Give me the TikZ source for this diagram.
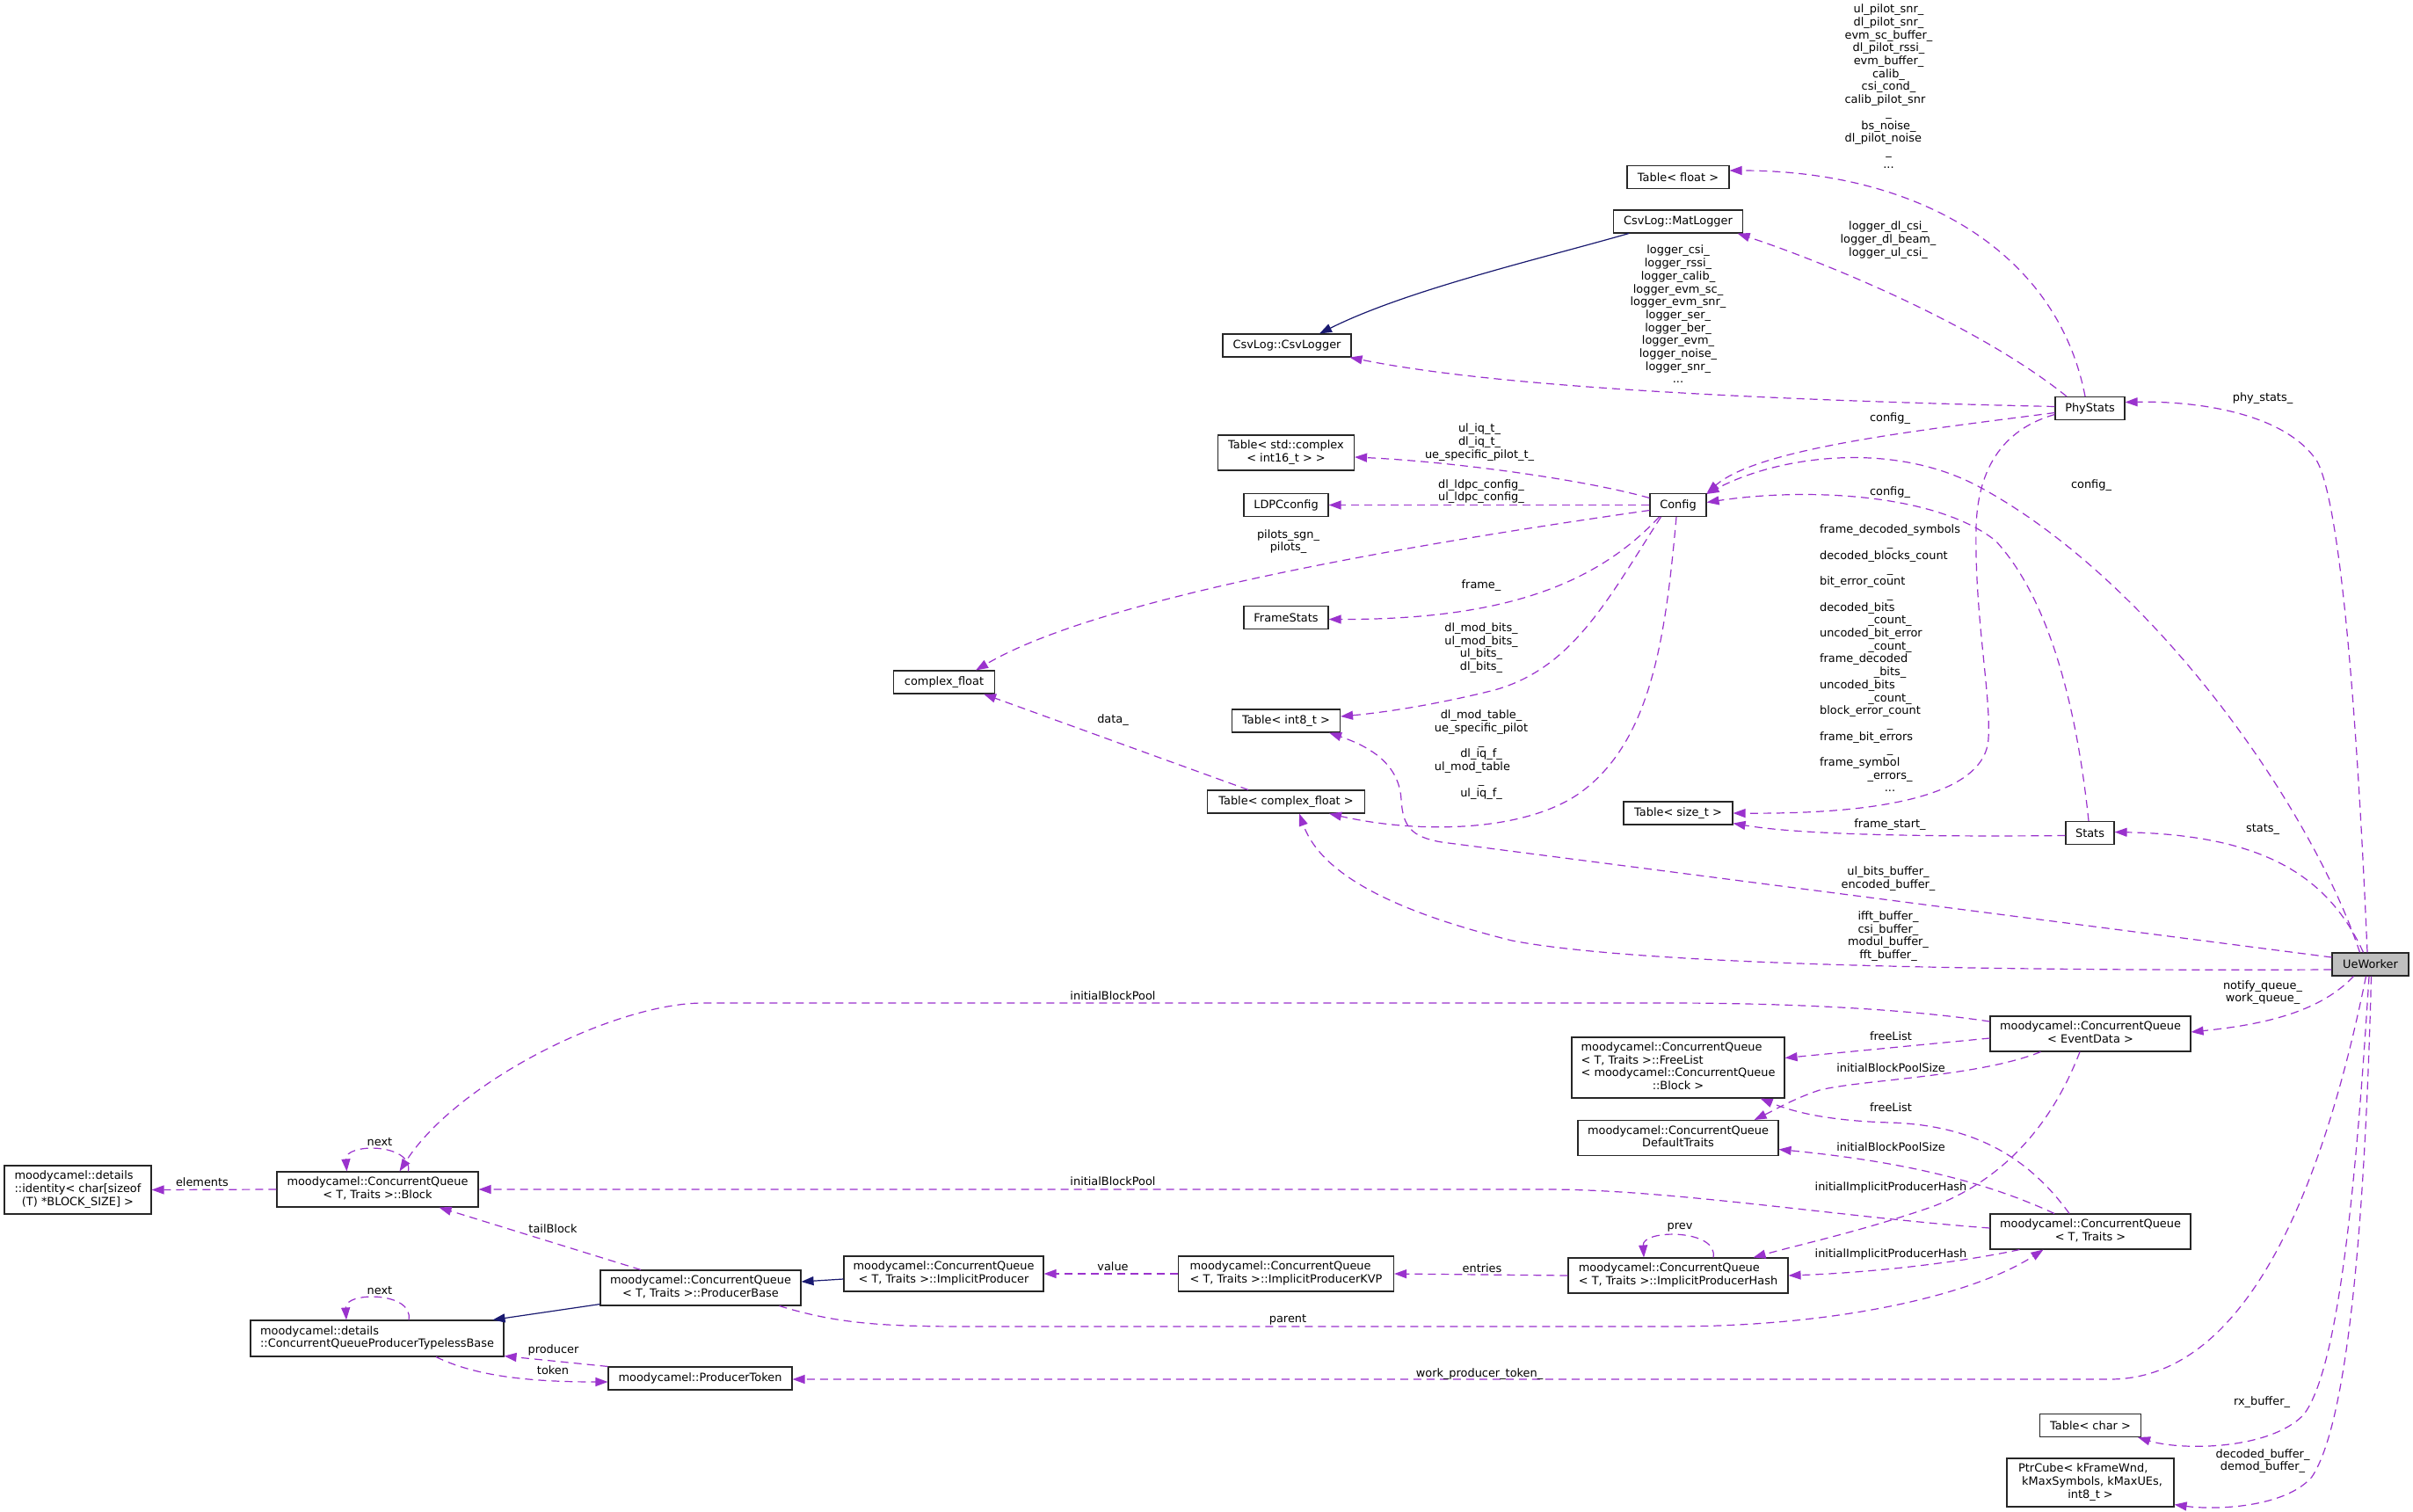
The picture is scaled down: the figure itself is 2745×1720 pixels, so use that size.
\documentclass[tikz,border=0pt]{standalone}
\usepackage{fontspec}
\setmainfont{DejaVu Sans}
\usetikzlibrary{arrows.meta,calc}
\definecolor{depc}{HTML}{9A32CD}
\definecolor{inhc}{HTML}{191970}
\definecolor{selc}{HTML}{BFBFBF}
\newcommand\nf{\fontsize{12.9}{14.7}\selectfont}
\newcommand\mycc[1]{\multicolumn{1}{@{}c@{}}{#1}}
\newcommand\myll[1]{\multicolumn{1}{@{}l@{}}{#1}}
\newcommand\mytl[1]{\begin{tabular}{@{}l@{}}#1\end{tabular}}
\newcommand\mytc[1]{\begin{tabular}{@{}c@{}}#1\end{tabular}}
\begin{document}
\begin{tikzpicture}[x=1pt,y=-1pt,
  box/.style={draw=black!85, line width=1.1pt, fill=white, inner xsep=0pt, inner ysep=0pt, minimum height=26pt, font=\nf},
  dep/.style={draw=depc, dash pattern=on 9pt off 6pt, line width=1.2pt, -{Triangle[length=14pt,width=10pt,fill=depc]}},
  inh/.style={draw=inhc, line width=1.2pt, -{Triangle[length=14pt,width=10pt,fill=inhc]}},
  lab/.style={inner sep=0pt, font=\nf, align=center}]
\path[use as bounding box, fill=white] (0,0) rectangle (2745,1720);

% ---------- nodes ----------
\node[box,minimum width=116pt] (tfloat) at (1909,201.5) {Table< float >};
\node[box,minimum width=147pt] (matlogger) at (1909,252) {CsvLog::MatLogger};
\node[box,minimum width=146pt] (csvlogger) at (1464,393) {CsvLog::CsvLogger};
\node[box,minimum width=79pt] (phystats) at (2377.5,464.5) {PhyStats};
\node[box,minimum width=155pt,minimum height=40pt] (tcomplex) at (1463,515) {\mytc{Table< std::complex\\< int16\_t > >}};
\node[box,minimum width=96pt] (ldpc) at (1463,574.5) {LDPCconfig};
\node[box,minimum width=64pt] (config) at (1909,574.5) {Config};
\node[box,minimum width=96pt] (framestats) at (1463,702.5) {FrameStats};
\node[box,minimum width=115pt] (cfloat) at (1074,776) {complex\_float};
\node[box,minimum width=123pt] (tint8) at (1463,820) {Table< int8\_t >};
\node[box,minimum width=179pt] (tcfloat) at (1463,912) {Table< complex\_float >};
\node[box,minimum width=124pt] (tsize) at (1909,925) {Table< size\_t >};
\node[box,minimum width=55pt] (stats) at (2377.5,947.5) {Stats};
\node[box,minimum width=87pt,fill=selc] (ueworker) at (2696.5,1097) {UeWorker};
\node[box,minimum width=228pt,minimum height=40pt] (cqevent) at (2378,1176) {\mytc{moodycamel::ConcurrentQueue\\< EventData >}};
\node[box,minimum width=242pt,minimum height=69pt] (freelist) at (1909,1214.5) {\mytl{moodycamel::ConcurrentQueue\\< T, Traits >::FreeList\\< moodycamel::ConcurrentQueue\\\mycc{::Block >}}};
\node[box,minimum width=228pt,minimum height=40pt] (traits) at (1909,1294.5) {\mytl{moodycamel::ConcurrentQueue\\\mycc{DefaultTraits}}};
\node[box,minimum width=229pt,minimum height=40pt] (block) at (429.5,1353) {\mytl{moodycamel::ConcurrentQueue\\\mycc{< T, Traits >::Block}}};
\node[box,minimum width=167pt,minimum height=55pt] (identity) at (88.5,1353.5) {\mytl{moodycamel::details\\::identity< char[sizeof\\\mycc{(T) *BLOCK\_SIZE] >}}};
\node[box,minimum width=228pt,minimum height=40pt] (cqt) at (2378,1401) {\mytl{moodycamel::ConcurrentQueue\\\mycc{< T, Traits >}}};
\node[box,minimum width=228pt,minimum height=40pt] (pbase) at (797,1465) {\mytl{moodycamel::ConcurrentQueue\\\mycc{< T, Traits >::ProducerBase}}};
\node[box,minimum width=227pt,minimum height=40pt] (iprod) at (1073.5,1449) {\mytl{moodycamel::ConcurrentQueue\\\mycc{< T, Traits >::ImplicitProducer}}};
\node[box,minimum width=245pt,minimum height=40pt] (kvp) at (1463,1449) {\mytl{moodycamel::ConcurrentQueue\\\mycc{< T, Traits >::ImplicitProducerKVP}}};
\node[box,minimum width=250pt,minimum height=40pt] (hash) at (1909,1451) {\mytl{moodycamel::ConcurrentQueue\\\mycc{< T, Traits >::ImplicitProducerHash}}};
\node[box,minimum width=288pt,minimum height=41pt] (typeless) at (429,1522.5) {\mytl{moodycamel::details\\\mycc{::ConcurrentQueueProducerTypelessBase}}};
\node[box,minimum width=209pt] (token) at (796.5,1568) {moodycamel::ProducerToken};
\node[box,minimum width=115pt] (tchar) at (2378,1621.5) {Table< char >};
\node[box,minimum width=190pt,minimum height=55pt] (ptrcube) at (2378,1686.5) {\mytl{PtrCube< kFrameWnd,\\\ kMaxSymbols, kMaxUEs,\\\mycc{int8\_t >}}};

% ---------- edges ----------
\draw[dep] ($(phystats.north)+(-5.5,0)$) .. controls (2340,285) and (2180,194) .. ($(tfloat.east)+(0,-7.5)$);
\draw[dep] ($(phystats.north)+(-26.5,0)$) .. controls (2250,370) and (2080,300) .. ($(matlogger.south east)+(-6.5,0)$);
\draw[dep] ($(phystats.west)+(0,-2)$) .. controls (2000,455) and (1700,440) .. ($(csvlogger.south east)+(-2,0)$);
\draw[dep] ($(phystats.west)+(0,5)$) .. controls (2180,490) and (2000,510) .. (config.north east);
\draw[dep] ($(phystats.west)+(0,7)$) .. controls (2290,485) and (2250,520) .. (2248,600) .. controls (2246,700) and (2265,790) .. (2262,840) .. controls (2258,915) and (2100,926) .. (tsize.east);
\draw[dep] ($(stats.west)+(0,3)$) .. controls (2200,952) and (2050,950) .. ($(tsize.south east)+(0,-2)$);
\draw[dep] ($(stats.north)+(-1.5,0)$) .. controls (2362,800) and (2330,680) .. (2270,615) .. controls (2200,560) and (2050,555) .. ($(config.east)+(0,-3)$);
\draw[dep] ($(ueworker.north)+(-12,0)$) .. controls (2630,920) and (2450,660) .. (2250,553) .. controls (2150,500) and (2020,520) .. ($(config.north east)+(0,1)$);
\draw[dep] ($(ueworker.north)+(-3.5,0)$) .. controls (2683,850) and (2665,580) .. (2636,525) .. controls (2600,470) and (2500,456) .. ($(phystats.east)+(0,-7)$);
\draw[dep] ($(ueworker.north)+(-8,0)$) .. controls (2650,1000) and (2580,950) .. ($(stats.east)+(0,-1)$);
\draw[dep] ($(ueworker.west)+(0,-8)$) -- (1640,958) .. controls (1605,952) and (1596,940) .. (1594,910) .. controls (1592,870) and (1560,850) .. ($(tint8.south east)+(-13,0)$);
\draw[dep] ($(ueworker.west)+(0,6)$) .. controls (2200,1105) and (1850,1095) .. (1720,1070) .. controls (1600,1040) and (1505,1000) .. ($(tcfloat.south)+(15,0)$);
\draw[dep] ($(config.south)+(-2,0)$) .. controls (1895,720) and (1880,840) .. (1800,900) .. controls (1740,945) and (1620,950) .. ($(tcfloat.south east)+(-41,0)$);
\draw[dep] ($(config.south west)+(13,0)$) .. controls (1830,680) and (1790,760) .. (1700,785) .. controls (1640,800) and (1580,810) .. ($(tint8.east)+(0,-5)$);
\draw[dep] ($(config.south west)+(11,0)$) .. controls (1820,660) and (1720,705) .. ($(framestats.east)+(0,2)$);
\draw[dep] ($(config.west)+(0,6)$) .. controls (1600,620) and (1250,680) .. ($(cfloat.north east)+(-22,0)$);
\draw[dep] (config.west) -- (ldpc.east);
\draw[dep] ($(config.west)+(0,-8)$) .. controls (1800,545) and (1650,525) .. ($(tcomplex.east)+(0,5)$);
\draw[inh] ($(matlogger.south west)+(18,0)$) .. controls (1750,295) and (1600,330) .. ($(csvlogger.north)+(37,0)$);
\draw[dep] ($(tcfloat.north)+(-43,0)$) -- ($(cfloat.south east)+(-13,0)$);
\draw[dep] ($(ueworker.south west)+(25,0)$) .. controls (2640,1150) and (2580,1165) .. ($(cqevent.east)+(0,-2)$);
\draw[dep] ($(ueworker.south)+(-5,0)$) .. controls (2645,1340) and (2560,1569) .. (2400,1569) -- ($(token.east)+(0,1)$);
\draw[dep] ($(ueworker.south)+(-1.5,0)$) .. controls (2680,1350) and (2660,1560) .. (2620,1610) .. controls (2580,1650) and (2480,1650) .. ($(tchar.south east)+(-4,0)$);
\draw[dep] ($(ueworker.south)+(1,0)$) .. controls (2690,1400) and (2670,1620) .. (2630,1680) .. controls (2600,1715) and (2520,1718) .. ($(ptrcube.south east)+(0,-3)$);
\draw[dep] ($(cqevent.west)+(0,-14)$) .. controls (2150,1145) and (2000,1141) .. (1900,1141) -- (800,1141) .. controls (700,1141) and (520,1230) .. ($(block.north)+(25,0)$);
\draw[dep] ($(cqevent.west)+(0,5)$) -- ($(freelist.east)+(0,-11)$);
\draw[dep] ($(cqevent.south west)+(58,0)$) .. controls (2250,1225) and (2120,1228) .. (2070,1240) .. controls (2040,1250) and (2020,1262) .. ($(traits.north east)+(-28,0)$);
\draw[dep] ($(cqevent.south)+(-12,0)$) .. controls (2330,1290) and (2270,1345) .. (2200,1372) .. controls (2120,1400) and (2050,1415) .. ($(hash.north east)+(-40,0)$);
\draw[dep] ($(cqt.west)+(0,-4)$) .. controls (2100,1385) and (1900,1353) .. (1760,1353) -- (block.east);
\draw[dep] ($(cqt.north)+(-24,0)$) .. controls (2310,1320) and (2250,1280) .. (2150,1277) .. controls (2080,1275) and (2040,1265) .. ($(freelist.south east)+(-28,0)$);
\draw[dep] ($(cqt.north)+(-41,0)$) .. controls (2250,1340) and (2150,1320) .. ($(traits.east)+(0,13)$);
\draw[dep] ($(cqt.south west)+(34,0)$) .. controls (2220,1438) and (2120,1448) .. (hash.east);
\draw[dep] ($(pbase.south east)+(-25,0)$) .. controls (950,1505) and (1000,1509) .. (1100,1509) -- (1900,1509) .. controls (2100,1509) and (2250,1470) .. ($(cqt.south west)+(61,0)$);
\draw[dep] (hash.west) -- (kvp.east);
\draw[dep] (kvp.west) -- (iprod.east);
\draw[inh] ($(iprod.west)+(0,6)$) -- ($(pbase.east)+(0,-7)$);
\draw[inh] ($(pbase.south west)+(0,-2)$) -- ($(typeless.north east)+(-13,0)$);
\draw[dep] ($(pbase.north)+(-68,0)$) -- ($(block.south east)+(-45,0)$);
\draw[dep] (block.west) -- (identity.east);
\draw[dep] ($(block.north)+(35,0)$) .. controls (470,1300) and (392,1300) .. ($(block.north)+(-35,0)$);
\draw[dep] ($(typeless.north)+(36,0)$) .. controls (471,1469) and (392,1469) .. ($(typeless.north)+(-35,0)$);
\draw[dep] ($(typeless.south)+(67,0)$) .. controls (540,1565) and (600,1572) .. ($(token.west)+(0,4)$);
\draw[dep] (token.north west) -- ($(typeless.south east)+(0,-1)$);
\draw[dep] ($(hash.north)+(40,0)$) .. controls (1955,1398) and (1868,1398) .. ($(hash.north)+(-39,0)$);

% ---------- labels ----------
\node[lab] (l1) at (2148.5,100) {\mytc{ul\_pilot\_snr\_\\dl\_pilot\_snr\_\\evm\_sc\_buffer\_\\dl\_pilot\_rssi\_\\evm\_buffer\_\\calib\_\\csi\_cond\_\\\myll{calib\_pilot\_snr}\\\_\\bs\_noise\_\\\myll{dl\_pilot\_noise}\\\_\\...}};
\node[lab] (l2) at (2148,273) {logger\_dl\_csi\_\\logger\_dl\_beam\_\\logger\_ul\_csi\_};
\node[lab] (l3) at (1909,357.5) {logger\_csi\_\\logger\_rssi\_\\logger\_calib\_\\logger\_evm\_sc\_\\logger\_evm\_snr\_\\logger\_ser\_\\logger\_ber\_\\logger\_evm\_\\logger\_noise\_\\logger\_snr\_\\...};
\node[lab] (l4) at (2150,476) {config\_};
\node[lab] (l5) at (2150,751) {\mytl{\mycc{frame\_decoded\_symbols}\\\mycc{\_}\\decoded\_blocks\_count\\\mycc{\_}\\bit\_error\_count\\\mycc{\_}\\decoded\_bits\\\mycc{\_count\_}\\uncoded\_bit\_error\\\mycc{\_count\_}\\frame\_decoded\\\mycc{\_bits\_}\\uncoded\_bits\\\mycc{\_count\_}\\block\_error\_count\\\mycc{\_}\\frame\_bit\_errors\\\mycc{\_}\\frame\_symbol\\\mycc{\_errors\_}\\\mycc{...}}};
\node[lab] (l6) at (2150,938) {frame\_start\_};
\node[lab] (l7) at (2150,560) {config\_};
\node[lab] (l8) at (2379,552) {config\_};
\node[lab] (l9) at (2574,453) {phy\_stats\_};
\node[lab] (l10) at (2574,943) {stats\_};
\node[lab] (l11) at (2148,999.5) {ul\_bits\_buffer\_\\encoded\_buffer\_};
\node[lab] (l12) at (2148,1065) {ifft\_buffer\_\\csi\_buffer\_\\modul\_buffer\_\\fft\_buffer\_};
\node[lab] (l13) at (1685,859) {\mytc{dl\_mod\_table\_\\\myll{ue\_specific\_pilot}\\\_\\dl\_iq\_f\_\\\myll{ul\_mod\_table}\\\_\\ul\_iq\_f\_}};
\node[lab] (l14) at (1685,737) {dl\_mod\_bits\_\\ul\_mod\_bits\_\\ul\_bits\_\\dl\_bits\_};
\node[lab] (l15) at (1685,666) {frame\_};
\node[lab] (l16) at (1465.5,616) {pilots\_sgn\_\\pilots\_};
\node[lab] (l17) at (1685,559) {dl\_ldpc\_config\_\\ul\_ldpc\_config\_};
\node[lab] (l18) at (1683,503) {ul\_iq\_t\_\\dl\_iq\_t\_\\ue\_specific\_pilot\_t\_};
\node[lab] (l19) at (1266,819) {data\_};
\node[lab] (l20) at (2574,1129) {notify\_queue\_\\work\_queue\_};
\node[lab] (l21) at (1683,1563) {work\_producer\_token\_};
\node[lab] (l22) at (2573,1595.5) {rx\_buffer\_};
\node[lab] (l23) at (2574,1662) {decoded\_buffer\_\\demod\_buffer\_};
\node[lab] (l24) at (1266,1133) {initialBlockPool};
\node[lab] (l25) at (2151,1179) {freeList};
\node[lab] (l26) at (2151,1215) {initialBlockPoolSize};
\node[lab] (l27) at (2151,1350.6) {initialImplicitProducerHash};
\node[lab] (l28) at (1266,1344) {initialBlockPool};
\node[lab] (l29) at (2151,1260) {freeList};
\node[lab] (l30) at (2151,1304.5) {initialBlockPoolSize};
\node[lab] (l31) at (2151,1426.5) {initialImplicitProducerHash};
\node[lab] (l32) at (1465,1501) {parent};
\node[lab] (l33) at (1686,1443) {entries};
\node[lab] (l34) at (1266,1441) {value};
\node[lab] (l35) at (629,1398) {tailBlock};
\node[lab] (l36) at (230,1345) {elements};
\node[lab] (l37) at (432,1299) {next};
\node[lab] (l38) at (432,1468) {next};
\node[lab] (l39) at (629,1559) {token};
\node[lab] (l40) at (629.5,1536) {producer};
\node[lab] (l41) at (1911,1396) {prev};
\end{tikzpicture}
\end{document}
